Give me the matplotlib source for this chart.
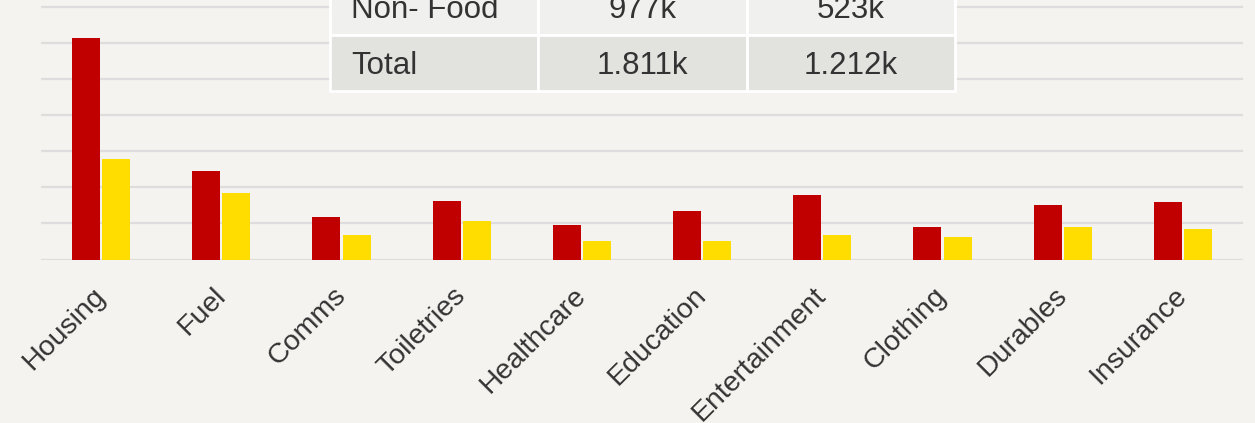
import matplotlib.pyplot as plt
import matplotlib.transforms as mtransforms
import numpy as np

plt.rcParams['font.family'] = ['Liberation Sans', 'DejaVu Sans']

categories = ['Housing', 'Fuel', 'Comms', 'Toiletries', 'Healthcare',
              'Education', 'Entertainment', 'Clothing', 'Durables', 'Insurance']
series_a = [308, 123, 59, 81, 48, 67, 90, 45, 76, 80]   # red, sum ~977k
series_b = [140, 92, 34, 53, 26, 26, 34, 31, 45, 42]    # yellow, sum ~523k
table_rows = [['Non- Food', '977k', '523k'],
              ['Total', '1.811k', '1.212k']]

bg = '#F4F3EF'
txt = '#333333'

fig = plt.figure(figsize=(12.55, 4.23), dpi=100, facecolor=bg)
ax = fig.add_axes([41 / 1255, 1 - 259.5 / 423, 1202 / 1255, 259.5 / 423])
ax.set_facecolor(bg)

x = np.arange(len(categories))
w = 0.233
ax.bar(x - 0.125, series_a, width=w, color='#C00000', zorder=3)
ax.bar(x + 0.125, series_b, width=w, color='#FFDD00', zorder=3)

ax.set_xlim(-0.5, len(categories) - 0.5)
ax.set_ylim(0, 360.4)
ax.set_yticks(np.arange(0, 351, 50))
ax.yaxis.grid(True, color='#DEDCDC', linewidth=1.6, zorder=0)
ax.set_axisbelow(True)
ax.tick_params(left=False, labelleft=False, bottom=False)
for s in ax.spines.values():
    s.set_visible(False)

ax.set_xticks(x)
ax.set_xticklabels(categories, rotation=45, ha='right', rotation_mode='anchor',
                   fontsize=20.5, color=txt)
ax.tick_params(axis='x', pad=8)
shift = mtransforms.ScaledTranslation(-9 / 100, -7 / 100, fig.dpi_scale_trans)
for lab in ax.get_xticklabels():
    lab.set_transform(lab.get_transform() + shift)

tb = ax.table(cellText=table_rows, cellLoc='center',
              bbox=[(330 - 41) / 1202, (259.5 - 91) / 259.5, 625 / 1202, 112 / 259.5])
tb.auto_set_font_size(False)
row_colors = ['#F0F0EE', '#E2E3DF']
for (r, c), cell in tb.get_celld().items():
    cell.set_facecolor(row_colors[r])
    cell.set_edgecolor('white')
    cell.set_linewidth(2)
    t = cell.get_text()
    t.set_fontsize(22.5)
    t.set_color(txt)
    t.set_transform(mtransforms.Affine2D().translate(0, -3))
    if c == 0:
        t.set_ha('left')
        cell.PAD = 0.1
tb.set_zorder(5)

fig.savefig('out.png', dpi=100, facecolor=bg)
